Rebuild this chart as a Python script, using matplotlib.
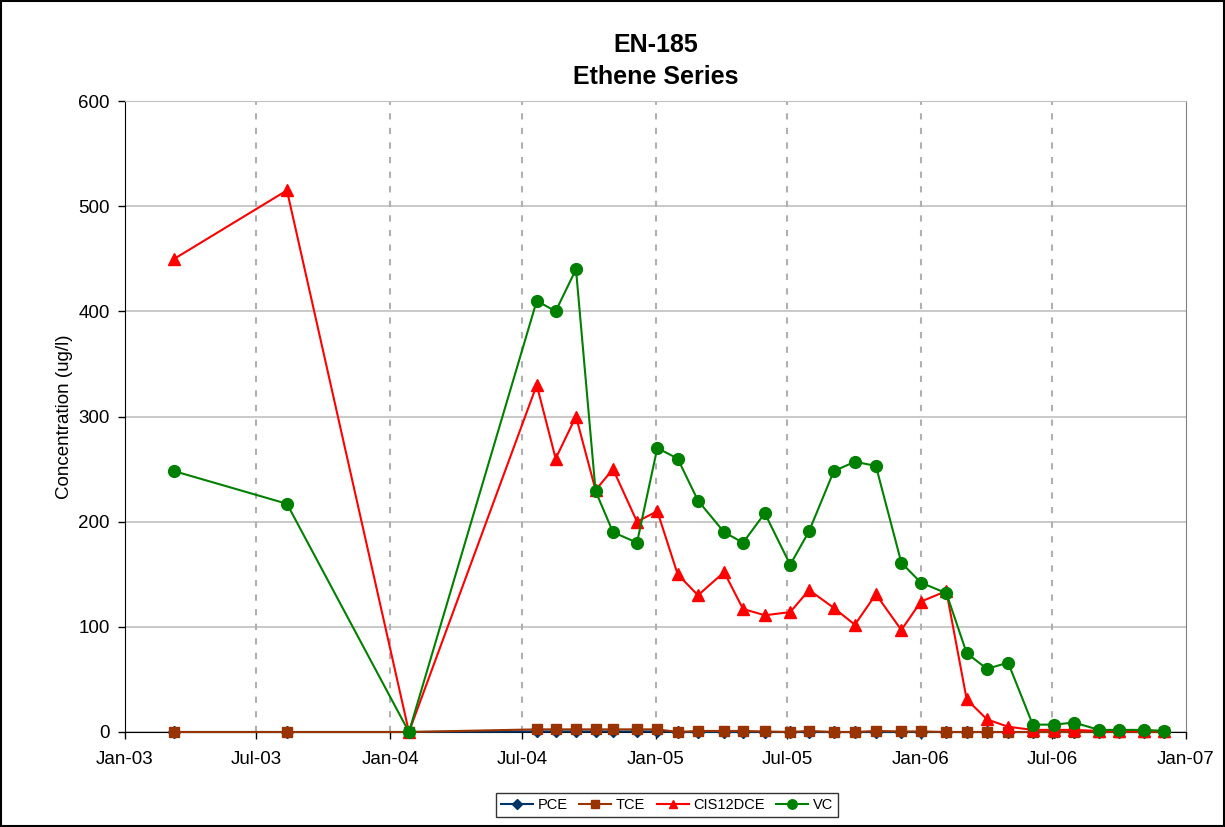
import matplotlib
matplotlib.use("Agg")
import matplotlib.pyplot as plt
import matplotlib.dates as mdates
import numpy as np
import pandas as pd

plt.rcParams['font.family'] = ['Liberation Sans', 'DejaVu Sans']

dates = pd.to_datetime([
    "2003-03-10", "2003-08-12", "2004-01-27", "2004-07-21", "2004-08-16",
    "2004-09-13", "2004-10-10", "2004-11-03", "2004-12-06", "2005-01-03",
    "2005-01-31", "2005-02-28", "2005-04-05", "2005-05-01", "2005-05-31",
    "2005-07-05", "2005-07-31", "2005-09-03", "2005-10-02", "2005-10-31",
    "2005-12-05", "2006-01-01", "2006-02-05", "2006-03-05", "2006-04-02",
    "2006-05-01", "2006-06-04", "2006-07-03", "2006-07-31", "2006-09-03",
    "2006-10-01", "2006-11-04", "2006-12-02",
])

pce = [0, 0, 0, 0.5, 0.5, 0.5, 0.5, 0.5, 0.5, 0.5,
       0, 0, 0, 0, 0, 0, 0, 0, 0, 0,
       0, 0, 0, 0, 0, 0, 0, 0, 0, 0,
       0, 0, 0]
tce = [0, 0, 0, 2.5, 2.5, 2.5, 2.5, 2.5, 2.5, 2.5,
       0, 1, 1, 1, 0.5, 0, 1, 0, 0, 1,
       0.5, 0.5, 0, 0, 0, 0, 0, 0, 0, 0,
       0, 0, 0]
cis12dce = [450, 515, 0, 330, 260, 300, 230, 250, 200, 210,
            150, 130, 152, 117, 111, 114, 135, 118, 102, 131,
            97, 124, 134, 31, 12, 5, 2, 2, 2, 1,
            1, 1, 1]
vc = [248, 217, 0, 410, 400, 440, 229, 190, 180, 270,
      260, 220, 190, 180, 208, 159, 191, 248, 257, 253,
      161, 142, 132, 75, 60, 66, 7, 7, 9, 2,
      2, 2, 1]

fig = plt.figure(figsize=(12.25, 8.27), dpi=100)
ax = fig.add_axes([125/1225, 1 - 732/827, (1186-125)/1225, (732-101)/827])

ax.plot(dates, pce, color='#003366', marker='D', markersize=6, lw=1.5, label='PCE', zorder=3, clip_on=False)
ax.plot(dates, tce, color='#993300', marker='s', markersize=7, lw=1.5, label='TCE', zorder=3, clip_on=False)
ax.plot(dates, cis12dce, color='#ff0000', marker='^', markersize=8, lw=1.5, label='CIS12DCE', zorder=4, clip_on=False)
ax.plot(dates, vc, color='#008000', marker='o', markersize=8.5, lw=1.5, label='VC', zorder=5, clip_on=False)

ax.set_xlim(pd.Timestamp("2003-01-01"), pd.Timestamp("2007-01-01"))
ax.set_ylim(0, 600)
ticks = pd.to_datetime(["2003-01-01", "2003-07-01", "2004-01-01", "2004-07-01",
                        "2005-01-01", "2005-07-01", "2006-01-01", "2006-07-01", "2007-01-01"])
ax.set_xticks(ticks)
ax.xaxis.set_major_formatter(mdates.DateFormatter('%b-%y'))
ax.set_yticks(np.arange(0, 601, 100))
ax.tick_params(axis='both', labelsize=13.5, direction='out', length=5, width=1, color='black')
ax.tick_params(axis='x', pad=9)
ax.tick_params(axis='y', pad=6)

ax.yaxis.grid(True, color='#c0c0c0', lw=1.2, ls='-')
for t in ticks[1:-1]:
    ax.axvline(t, color='#b0b0b0', lw=1.5, ls=(0, (3, 4)), zorder=1)
ax.set_axisbelow(True)

ax.spines['right'].set_color('#808080')
ax.spines['top'].set_color('#c0c0c0')
ax.spines['left'].set_color('black')
ax.spines['bottom'].set_color('black')

ax.set_ylabel('Concentration (ug/l)', fontsize=13.5, labelpad=4)
fig.text(0.5 * (125 + 1186) / 1225, 1 - 61/827, 'EN-185\nEthene Series', ha='center', va='center',
         fontsize=18, fontweight='bold', linespacing=1.4)

leg = fig.legend(loc='center', bbox_to_anchor=(667/1225, 1 - 805/827), ncol=4, fontsize=10.5,
                 frameon=True, fancybox=False, edgecolor='black', handlelength=2.2,
                 handletextpad=0.3, columnspacing=0.8, borderpad=0.35, markerscale=0.8)
leg.get_frame().set_linewidth(1)

fig.patches.append(plt.Rectangle((0.001, 0.001), 0.998, 0.998, transform=fig.transFigure,
                                 fill=False, edgecolor='black', lw=1.5))

fig.savefig('out.png', dpi=100)
